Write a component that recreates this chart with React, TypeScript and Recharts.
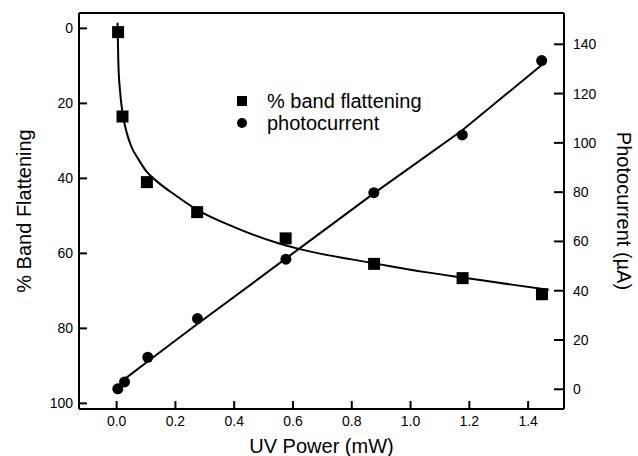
import {
  ComposedChart,
  Legend,
  Line,
  Scatter,
  XAxis,
  YAxis,
} from "recharts";

// measured points
const powerBand = [0.005, 0.02, 0.103, 0.274, 0.575, 0.876, 1.177, 1.447];
const bandFlattening = [1, 23.5, 41, 49, 56, 62.8, 66.6, 70.9];
const powerPhoto = [0.004, 0.027, 0.106, 0.275, 0.576, 0.875, 1.176, 1.446];
const photocurrent = [0.2, 3, 13, 28.7, 52.8, 79.8, 103.2, 133.4];

// fitted curves
const bandFitX = [0.003, 0.006, 0.012, 0.02, 0.035, 0.05, 0.075, 0.1, 0.14, 0.2, 0.27, 0.4, 0.55, 0.62, 0.7, 0.8, 0.9, 1.05, 1.2, 1.35, 1.47];
const bandFitY = [-1.5, 9.5, 17, 22.5, 28, 31.5, 35, 38, 41, 44.5, 48.2, 53, 57.3, 58.8, 60.2, 61.6, 63, 65, 66.7, 68.4, 69.7];
const photoFitX = [0.02, 0.11, 0.27, 0.48, 0.62, 0.875, 1.175, 1.445];
const photoFitY = [3.5, 11.7, 26.1, 44.6, 57, 79.5, 105, 131.5];

const xTicks = [0, 0.2, 0.4, 0.6, 0.8, 1.0, 1.2, 1.4];
const leftTicks = [0, 20, 40, 60, 80, 100];
const rightTicks = [0, 20, 40, 60, 80, 100, 120, 140];

const FONT = "'Liberation Sans', Arial, Helvetica, sans-serif";

const zip = (xs: number[], ys: number[]) => xs.map((x, i) => ({ x, y: ys[i] }));

const bandPoints = zip(powerBand, bandFlattening);
const photoPoints = zip(powerPhoto, photocurrent);
const bandFit = zip(bandFitX, bandFitY);
const photoFit = zip(photoFitX, photoFitY);

const Square = (p: any) => (
  <rect x={p.cx - 6} y={p.cy - 6} width={12} height={12} fill="#000" />
);
const Dot = (p: any) => <circle cx={p.cx} cy={p.cy} r={5.5} fill="#000" />;

const tickStyle = { fontFamily: FONT, fontSize: 14, fill: "#000" };

function LegendBox() {
  const row = { display: "flex", alignItems: "center", height: 22 } as const;
  return (
    <div style={{ fontFamily: FONT, fontSize: 20, color: "#000", lineHeight: "22px" }}>
      <div style={row}>
        <span style={{ width: 10, height: 10, background: "#000", marginRight: 20 }} />
        <span>% band flattening</span>
      </div>
      <div style={row}>
        <span style={{ width: 10, height: 10, borderRadius: 5, background: "#000", marginRight: 20 }} />
        <span>photocurrent</span>
      </div>
    </div>
  );
}

export default function App() {
  return (
    <div style={{ position: "absolute", left: 8, top: 8 }}>
      <ComposedChart
        width={630}
        height={448}
        margin={{ top: 4, right: 0, bottom: 0, left: 0 }}
      >
        <XAxis
          dataKey="x"
          type="number"
          domain={[-0.128, 1.522]}
          ticks={xTicks}
          allowDataOverflow
          tickFormatter={(v: number) => v.toFixed(1)}
          tick={tickStyle}
          tickSize={-8}
          tickMargin={15}
          height={47}
          stroke="#000"
          strokeWidth={2}
          label={{
            value: "UV Power (mW)",
            position: "insideBottom",
            offset: 3,
            style: { fontFamily: FONT, fontSize: 20, fill: "#000" },
          }}
        />
        <XAxis
          xAxisId="top"
          dataKey="x"
          type="number"
          orientation="top"
          domain={[-0.128, 1.522]}
          ticks={xTicks}
          allowDataOverflow
          tick={false}
          tickSize={-8}
          height={1}
          stroke="#000"
          strokeWidth={2}
        />
        <YAxis
          yAxisId="left"
          dataKey="y"
          type="number"
          reversed
          domain={[-4.1, 101.5]}
          ticks={leftTicks}
          allowDataOverflow
          tick={tickStyle}
          tickSize={-8}
          tickMargin={14}
          width={71}
          stroke="#000"
          strokeWidth={2}
          label={{
            value: "% Band Flattening",
            angle: -90,
            position: "center",
            dx: -20,
            style: { fontFamily: FONT, fontSize: 20, fill: "#000", textAnchor: "middle" },
          }}
        />
        <YAxis
          yAxisId="right"
          dataKey="y"
          type="number"
          orientation="right"
          domain={[-8, 152.7]}
          ticks={rightTicks}
          allowDataOverflow
          tick={tickStyle}
          tickSize={-10}
          tickMargin={19}
          width={74}
          stroke="#000"
          strokeWidth={2}
          label={{
            value: "Photocurrent (µA)",
            angle: 90,
            position: "center",
            dx: 23,
            style: { fontFamily: FONT, fontSize: 20, fill: "#000", textAnchor: "middle" },
          }}
        />
        <Legend
          layout="vertical"
          align="center"
          verticalAlign="middle"
          content={() => <LegendBox />}
          wrapperStyle={{ left: 229, top: 82, width: "auto", height: "auto" }}
        />
        <Line
          yAxisId="left"
          data={bandFit}
          dataKey="y"
          type="monotone"
          stroke="#000"
          strokeWidth={2}
          dot={false}
          activeDot={false}
          isAnimationActive={false}
        />
        <Line
          yAxisId="right"
          data={photoFit}
          dataKey="y"
          type="linear"
          stroke="#000"
          strokeWidth={2}
          dot={false}
          activeDot={false}
          isAnimationActive={false}
        />
        <Scatter
          yAxisId="left"
          data={bandPoints}
          dataKey="y"
          shape={Square}
          isAnimationActive={false}
        />
        <Scatter
          yAxisId="right"
          data={photoPoints}
          dataKey="y"
          shape={Dot}
          isAnimationActive={false}
        />
      </ComposedChart>
    </div>
  );
}
